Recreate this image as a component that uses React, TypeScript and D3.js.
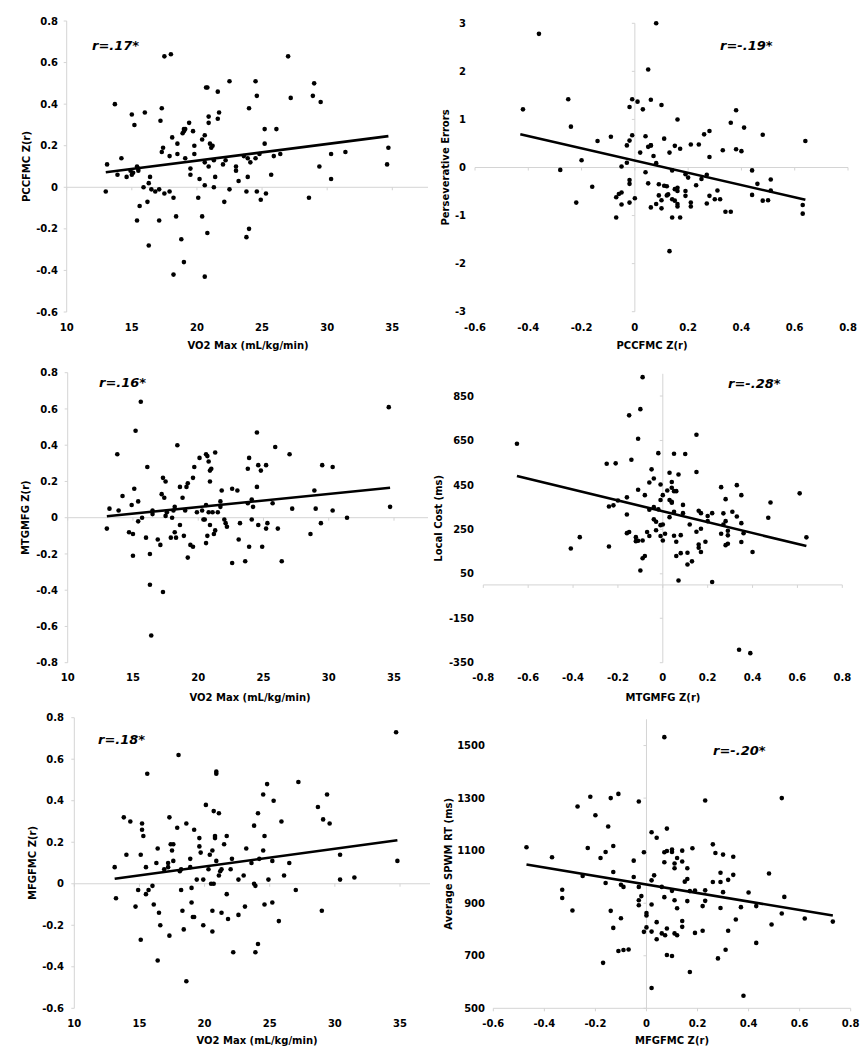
import React from "react";
import * as d3 from "d3";

// ---------- DATA ----------
const vo2VsPcc: [number, number][] = [
  [13.0,-0.02],[13.1,0.11],[13.7,0.40],[13.9,0.06],[14.2,0.14],[14.6,0.05],[14.9,0.08],[15.0,0.35],[15.0,0.06],[15.1,0.07],
  [15.2,0.30],[15.4,0.10],[15.5,0.09],[15.5,0.08],[15.4,-0.16],[15.6,-0.09],[15.9,0.00],[16.0,0.36],[16.2,-0.07],[16.3,0.02],
  [16.4,0.05],[16.3,-0.28],[16.5,-0.01],[16.8,-0.02],[17.1,-0.01],[17.1,-0.16],[17.2,0.32],[17.3,0.17],[17.3,0.38],[17.4,0.19],
  [17.5,0.63],[17.5,-0.03],[17.9,-0.02],[17.9,0.15],[18.0,0.64],[18.1,0.24],[18.2,-0.42],[18.2,-0.05],[18.4,-0.14],[18.5,0.21],
  [18.5,0.16],[18.8,-0.25],[18.9,0.26],[19.0,0.27],[19.0,0.28],[19.1,0.28],[19.0,-0.36],[19.1,0.14],[19.4,0.31],[19.5,0.09],
  [19.5,0.06],[19.7,0.27],[19.8,0.20],[19.8,0.16],[20.1,-0.05],[20.2,0.04],[20.4,0.23],[20.6,0.12],[20.6,0.01],[20.4,-0.14],
  [20.6,0.25],[20.6,-0.43],[20.7,0.48],[20.8,0.48],[20.8,-0.22],[20.9,0.34],[20.9,0.31],[20.9,0.10],[21.0,0.21],[21.1,0.19],
  [21.2,0.20],[21.3,0.13],[21.3,0.00],[21.4,0.05],[21.6,0.46],[21.6,0.33],[21.7,0.36],[22.0,0.11],[22.1,-0.07],[22.2,0.13],
  [22.5,0.51],[22.5,-0.01],[23.0,0.08],[23.0,0.10],[23.2,0.03],[23.6,0.15],[23.8,-0.02],[23.8,-0.24],[23.9,0.14],[23.9,0.05],
  [24.0,0.38],[24.0,-0.20],[24.1,0.12],[24.5,0.51],[24.5,0.14],[24.6,0.44],[24.6,-0.02],[24.8,0.16],[24.9,-0.06],[25.2,0.28],
  [25.2,0.21],[25.3,-0.03],[25.7,0.06],[25.9,0.15],[26.1,0.28],[26.4,0.16],[27.0,0.63],[27.2,0.43],[28.6,-0.05],[28.9,0.44],
  [29.0,0.50],[29.4,0.10],[29.5,0.41],[30.3,0.16],[30.3,0.04],[31.4,0.17],[34.6,0.11],[34.7,0.19]
];

const pccVsErrors: [number, number][] = [
  [-0.42,1.21],[-0.36,2.78],[-0.28,-0.05],[-0.25,1.42],[-0.24,0.85],[-0.22,-0.73],[-0.20,0.15],[-0.16,-0.40],[-0.14,0.55],[-0.09,0.64],
  [-0.07,-0.62],[-0.07,-1.04],[-0.06,-0.55],[-0.05,-0.52],[-0.05,0.02],[-0.05,-0.77],[-0.03,0.46],[-0.03,0.10],[-0.02,0.56],[-0.02,1.26],
  [-0.02,-0.26],[-0.02,-0.34],[-0.02,-0.73],[-0.01,0.67],[-0.01,1.42],[0.00,-0.64],[0.01,1.37],[0.02,0.31],[0.03,1.21],[0.04,0.65],
  [0.04,-0.10],[0.05,2.04],[0.05,0.43],[0.05,-0.33],[0.06,0.46],[0.06,0.46],[0.06,1.41],[0.06,-0.83],[0.07,0.24],[0.08,0.09],
  [0.08,-0.76],[0.08,3.0],[0.09,-0.35],[0.09,-0.58],[0.10,-0.68],[0.10,-0.85],[0.10,1.30],[0.11,0.60],[0.11,-0.38],[0.12,-0.39],
  [0.12,-0.58],[0.125,-0.56],[0.13,0.31],[0.13,-1.74],[0.14,-0.06],[0.14,-0.66],[0.14,-1.04],[0.15,-0.69],[0.15,0.45],[0.15,-0.45],
  [0.16,-0.49],[0.16,1.00],[0.16,-0.42],[0.16,-0.76],[0.16,-0.81],[0.17,0.39],[0.17,-1.04],[0.19,-0.14],[0.19,-0.49],[0.19,-0.59],
  [0.20,-0.21],[0.21,0.48],[0.21,-0.73],[0.21,-0.81],[0.23,-0.37],[0.24,0.48],[0.25,-0.24],[0.26,0.69],[0.27,-0.15],[0.27,-0.75],
  [0.28,0.76],[0.28,0.22],[0.28,-0.59],[0.30,-0.66],[0.31,-0.48],[0.32,-0.66],[0.33,0.36],[0.34,-0.92],[0.36,0.93],[0.36,-0.92],
  [0.38,1.19],[0.38,0.38],[0.40,0.34],[0.41,0.83],[0.44,-0.06],[0.44,-0.57],[0.46,-0.34],[0.48,0.68],[0.48,-0.69],[0.50,-0.68],
  [0.51,-0.25],[0.51,-0.48],[0.63,-0.78],[0.63,-0.96],[0.64,0.55]
];

const vo2VsMtg: [number, number][] = [
  [13.0,-0.06],[13.2,0.05],[13.8,0.35],[13.9,0.04],[14.2,0.12],[14.7,-0.08],[14.9,0.07],[15.0,-0.09],[15.0,-0.21],[15.1,0.16],
  [15.2,0.48],[15.4,0.09],[15.4,-0.02],[15.6,0.64],[15.7,0.00],[16.0,-0.11],[16.1,0.28],[16.3,-0.37],[16.3,-0.20],[16.4,-0.65],
  [16.5,0.02],[16.5,0.04],[16.9,-0.12],[17.1,-0.15],[17.2,0.13],[17.3,0.22],[17.3,-0.41],[17.4,0.11],[17.5,0.01],[17.5,0.20],
  [17.6,0.03],[17.9,-0.11],[18.0,0.00],[18.1,0.04],[18.2,0.06],[18.2,-0.08],[18.3,-0.11],[18.4,0.40],[18.6,0.17],[18.6,-0.04],
  [18.8,0.11],[18.9,-0.10],[19.0,0.04],[19.1,0.17],[19.2,0.19],[19.2,-0.22],[19.4,-0.15],[19.6,-0.16],[19.6,0.22],[19.7,0.28],
  [19.9,0.03],[20.1,0.33],[20.3,0.04],[20.4,-0.01],[20.5,-0.01],[20.6,0.35],[20.7,0.34],[20.6,0.07],[20.6,-0.14],[20.7,-0.10],
  [20.8,0.31],[20.8,0.03],[20.9,0.26],[20.9,0.20],[20.9,-0.04],[21.0,0.27],[21.1,0.03],[21.2,-0.09],[21.3,0.36],[21.3,-0.07],
  [21.5,0.03],[21.7,0.09],[21.8,0.15],[21.7,0.06],[22.0,-0.01],[22.1,-0.03],[22.2,-0.05],[22.6,0.16],[22.6,-0.25],[23.0,0.15],
  [23.1,-0.12],[23.2,-0.03],[23.6,-0.24],[23.8,0.27],[23.9,0.33],[23.9,-0.16],[23.8,0.08],[24.1,0.10],[24.2,0.06],[24.1,-0.01],
  [24.5,0.47],[24.5,0.17],[24.6,0.29],[24.6,-0.04],[24.8,0.26],[24.9,-0.16],[25.2,0.29],[25.2,-0.06],[25.3,-0.03],[25.7,0.08],
  [25.9,0.39],[26.1,-0.06],[26.4,-0.24],[27.0,0.35],[27.2,0.05],[28.6,-0.09],[28.9,0.15],[29.0,0.05],[29.4,-0.03],[29.5,0.29],
  [30.3,0.28],[30.3,0.04],[31.4,0.00],[34.6,0.61],[34.7,0.06]
];

const mtgVsCost: [number, number][] = [
  [-0.65,635],[-0.41,164],[-0.37,215],[-0.25,545],[-0.24,353],[-0.24,173],[-0.22,358],[-0.21,547],[-0.20,380],[-0.16,394],
  [-0.16,317],[-0.16,233],[-0.15,763],[-0.15,238],[-0.14,563],[-0.12,215],[-0.12,197],[-0.11,428],[-0.11,658],[-0.11,199],
  [-0.10,791],[-0.10,65],[-0.09,935],[-0.09,200],[-0.09,120],[-0.08,130],[-0.08,404],[-0.07,238],[-0.06,220],[-0.06,461],
  [-0.06,338],[-0.05,520],[-0.04,479],[-0.04,350],[-0.04,295],[-0.03,284],[-0.03,246],[-0.02,593],[-0.02,340],[-0.01,452],
  [-0.01,382],[-0.01,220],[-0.01,269],[0.00,272],[0.00,404],[0.00,200],[0.01,230],[0.02,425],[0.03,505],[0.03,382],
  [0.03,305],[0.04,374],[0.04,437],[0.04,463],[0.04,370],[0.05,590],[0.05,422],[0.05,329],[0.05,221],[0.06,422],
  [0.06,130],[0.06,194],[0.07,497],[0.07,20],[0.08,224],[0.08,143],[0.09,360],[0.09,323],[0.10,589],[0.11,145],
  [0.11,92],[0.12,272],[0.13,106],[0.15,676],[0.15,508],[0.15,239],[0.16,334],[0.16,182],[0.16,167],[0.17,323],
  [0.17,253],[0.17,148],[0.19,194],[0.20,310],[0.20,287],[0.22,323],[0.22,13],[0.26,440],[0.26,230],[0.27,322],
  [0.27,272],[0.28,386],[0.28,287],[0.28,179],[0.29,244],[0.29,223],[0.29,185],[0.31,329],[0.33,449],[0.33,308],
  [0.34,-292],[0.35,404],[0.35,278],[0.35,193],[0.36,233],[0.39,-307],[0.40,148],[0.47,302],[0.48,371],[0.61,412],
  [0.64,214]
];

const vo2VsMfg: [number, number][] = [
  [13.1,0.08],[13.2,-0.07],[13.8,0.32],[14.0,0.14],[14.3,0.30],[14.7,-0.11],[14.9,-0.03],[15.1,0.14],[15.1,-0.27],[15.2,0.29],
  [15.2,0.26],[15.3,0.23],[15.5,-0.05],[15.5,0.08],[15.6,0.53],[15.7,-0.03],[16.0,-0.01],[16.1,-0.10],[16.3,0.10],[16.4,0.17],
  [16.4,-0.37],[16.5,-0.14],[16.6,-0.20],[16.9,0.07],[17.2,0.10],[17.2,0.08],[17.3,0.32],[17.3,-0.25],[17.4,0.19],[17.5,0.16],
  [17.6,0.19],[17.6,0.11],[17.9,0.27],[18.0,0.62],[18.1,0.06],[18.2,0.07],[18.2,-0.03],[18.3,-0.13],[18.4,-0.22],[18.6,0.29],
  [18.6,-0.47],[18.9,0.12],[18.9,0.08],[19.0,-0.02],[19.0,-0.09],[19.1,-0.16],[19.2,-0.16],[19.2,0.26],[19.4,0.02],[19.6,0.22],
  [19.6,0.18],[19.7,0.15],[19.9,0.02],[19.9,-0.20],[20.1,0.38],[20.3,0.07],[20.4,0.14],[20.5,0.00],[20.6,0.16],[20.6,-0.13],
  [20.6,-0.23],[20.7,0.00],[20.7,0.35],[20.8,0.23],[20.8,0.22],[20.9,0.54],[20.9,0.53],[20.9,0.11],[21.1,0.34],[21.1,0.04],
  [21.2,0.06],[21.3,0.07],[21.3,-0.14],[21.5,0.19],[21.7,0.23],[21.7,-0.05],[21.8,-0.17],[22.0,0.07],[22.1,0.12],[22.2,-0.33],
  [22.6,0.02],[22.6,-0.15],[23.0,0.04],[23.1,-0.11],[23.2,0.17],[23.6,0.10],[23.8,0.28],[23.8,0.00],[23.9,-0.01],[23.9,-0.33],
  [24.1,0.34],[24.1,-0.29],[24.2,0.12],[24.5,0.43],[24.5,0.16],[24.6,0.23],[24.6,-0.10],[24.8,0.48],[24.9,0.02],[25.2,0.11],
  [25.2,-0.09],[25.3,0.40],[25.7,-0.18],[25.9,0.30],[26.1,0.04],[26.5,0.10],[27.0,-0.03],[27.2,0.49],[28.7,0.37],[29.0,-0.13],
  [29.1,0.31],[29.4,0.43],[29.6,0.29],[30.4,0.14],[30.4,0.02],[31.5,0.03],[34.7,0.73],[34.8,0.11]
];

const mfgVsRt: [number, number][] = [
  [-0.47,1113],[-0.37,1075],[-0.33,951],[-0.33,920],[-0.29,872],[-0.27,1268],[-0.25,1004],[-0.23,1110],[-0.22,1305],[-0.20,1235],
  [-0.18,1072],[-0.17,673],[-0.16,1095],[-0.16,977],[-0.15,1192],[-0.14,1300],[-0.14,871],[-0.13,1118],[-0.13,1019],[-0.13,806],
  [-0.11,1316],[-0.11,718],[-0.10,843],[-0.10,970],[-0.09,962],[-0.09,722],[-0.07,724],[-0.05,1062],[-0.05,1000],[-0.03,1287],
  [-0.03,962],[-0.03,911],[-0.03,892],[-0.02,927],[-0.01,1094],[-0.01,791],[0.00,863],[0.00,853],[0.00,808],[0.02,1170],
  [0.02,987],[0.02,895],[0.02,792],[0.02,577],[0.03,1006],[0.04,1149],[0.04,828],[0.04,763],[0.06,962],[0.06,785],
  [0.07,1532],[0.07,1094],[0.07,1056],[0.07,923],[0.073,778],[0.08,1099],[0.08,1184],[0.08,804],[0.08,703],[0.10,1104],
  [0.10,1095],[0.10,947],[0.10,699],[0.11,1051],[0.11,1033],[0.11,911],[0.11,785],[0.12,778],[0.12,1072],[0.12,881],
  [0.14,1100],[0.14,1059],[0.14,832],[0.14,810],[0.15,982],[0.16,1033],[0.16,992],[0.16,908],[0.17,638],[0.17,946],
  [0.18,1109],[0.19,948],[0.19,787],[0.22,889],[0.22,795],[0.23,949],[0.23,909],[0.23,1291],[0.26,1124],[0.26,981],
  [0.27,1091],[0.28,690],[0.29,1016],[0.29,981],[0.29,882],[0.30,1085],[0.30,942],[0.31,723],[0.32,989],[0.32,795],
  [0.34,1077],[0.34,1008],[0.35,838],[0.37,885],[0.38,548],[0.40,941],[0.43,889],[0.43,749],[0.48,1013],[0.49,819],
  [0.53,1300],[0.53,861],[0.54,924],[0.62,842],[0.73,830]
];

// fitted regression lines (endpoints)
const fitPccVo2: [number, number][] = [[13.0, 0.072], [34.7, 0.246]];
const fitErrPcc: [number, number][] = [[-0.43, 0.69], [0.64, -0.67]];
const fitMtgVo2: [number, number][] = [[13.0, 0.008], [34.7, 0.165]];
const fitCostMtg: [number, number][] = [[-0.65, 490], [0.64, 175]];
const fitMfgVo2: [number, number][] = [[13.1, 0.024], [34.8, 0.21]];
const fitRtMfg: [number, number][] = [[-0.47, 1047], [0.73, 853]];

const vo2Ticks = [10, 15, 20, 25, 30, 35];
const zTicks14 = [-0.6, -0.4, -0.2, 0, 0.2, 0.4, 0.6, 0.8];
const zTicks16 = [-0.8, -0.6, -0.4, -0.2, 0, 0.2, 0.4, 0.6, 0.8];
const errTicks = [-3, -2, -1, 0, 1, 2, 3];
const costTicks = [-350, -150, 50, 250, 450, 650, 850];
const rtTicks = [500, 700, 900, 1100, 1300, 1500];

const rLabels = ["r=.17*", "r=-.19*", "r=.16*", "r=-.28*", "r=.18*", "r=-.20*"];

// ---------- LAYOUT ----------
type PanelCfg = {
  data: [number, number][];
  fit: [number, number][];
  xDomain: [number, number];
  yDomain: [number, number];
  xRange: [number, number];
  yRange: [number, number];
  xTicks: number[];
  yTicks: number[];
  xCross: number; // x value where vertical line drawn
  yCross: number; // y value where horizontal line drawn
  hLineEnd: number;
  vTop?: number;
  xTitle: string;
  yTitle: string;
  xTitleX: number;
  xTitleY: number;
  yTitleX: number;
  yLabelX: number;
  xLabelY: number;
  rLabel: string;
  rX: number;
  rY: number;
};

const fmt = (v: number) => {
  if (v === 0) return "0";
  const s = String(Math.round(v * 100) / 100);
  return s;
};

const panels: PanelCfg[] = [
  {
    data: vo2VsPcc, fit: fitPccVo2,
    xDomain: [10, 35], yDomain: [-0.6, 0.8], xRange: [66.7, 392.3], yRange: [312, 21],
    xTicks: vo2Ticks, yTicks: zTicks14, xCross: 10, yCross: 0, hLineEnd: 428,
    xTitle: "VO2 Max (mL/kg/min)", yTitle: "PCCFMC Z(r)",
    xTitleX: 248, xTitleY: 349, yTitleX: 30, yLabelX: 58, xLabelY: 331,
    rLabel: rLabels[0], rX: 92, rY: 50,
  },
  {
    data: pccVsErrors, fit: fitErrPcc,
    xDomain: [-0.6, 0.8], yDomain: [-3, 3], xRange: [475, 848], yRange: [311.7, 23.3],
    xTicks: zTicks14, yTicks: errTicks, xCross: 0, yCross: 0, hLineEnd: 848,
    xTitle: "PCCFMC Z(r)", yTitle: "Perseverative Errors",
    xTitleX: 652, xTitleY: 349, yTitleX: 449, yLabelX: 466, xLabelY: 331,
    rLabel: rLabels[1], rX: 720, rY: 50,
  },
  {
    data: vo2VsMtg, fit: fitMtgVo2,
    xDomain: [10, 35], yDomain: [-0.8, 0.8], xRange: [67.7, 394], yRange: [662.7, 372.7],
    xTicks: vo2Ticks, yTicks: zTicks16, xCross: 10, yCross: 0, hLineEnd: 428,
    xTitle: "VO2 Max (mL/kg/min)", yTitle: "MTGMFG Z(r)",
    xTitleX: 250, xTitleY: 701, yTitleX: 29, yLabelX: 58, xLabelY: 681,
    rLabel: rLabels[2], rX: 99, rY: 387,
  },
  {
    data: mtgVsCost, fit: fitCostMtg,
    xDomain: [-0.8, 0.8], yDomain: [-350, 950], xRange: [483.3, 842.3], yRange: [662.7, 373.8],
    xTicks: zTicks16, yTicks: costTicks, xCross: 0, yCross: 0, hLineEnd: 842.3,
    xTitle: "MTGMFG Z(r)", yTitle: "Local Cost (ms)",
    xTitleX: 663, xTitleY: 701, yTitleX: 442, yLabelX: 474, xLabelY: 681,
    rLabel: rLabels[3], rX: 728, rY: 388,
  },
  {
    data: vo2VsMfg, fit: fitMfgVo2,
    xDomain: [10, 35], yDomain: [-0.6, 0.8], xRange: [74.3, 400], yRange: [1008.3, 717.7],
    xTicks: vo2Ticks, yTicks: zTicks14, xCross: 10, yCross: 0, hLineEnd: 430,
    xTitle: "VO2 Max (mL/kg/min)", yTitle: "MFGFMC Z(r)",
    xTitleX: 257, xTitleY: 1044, yTitleX: 36, yLabelX: 64, xLabelY: 1027,
    rLabel: rLabels[4], rX: 98, rY: 744,
  },
  {
    data: mfgVsRt, fit: fitRtMfg,
    xDomain: [-0.6, 0.8], yDomain: [500, 1600], xRange: [493.3, 850.7], yRange: [1008.3, 719.3],
    xTicks: zTicks14, yTicks: rtTicks, xCross: 0, yCross: 500, hLineEnd: 850.7,
    xTitle: "MFGFMC Z(r)", yTitle: "Average SPWM RT (ms)",
    xTitleX: 672, xTitleY: 1044, yTitleX: 452, yLabelX: 485, xLabelY: 1027,
    rLabel: rLabels[5], rX: 713, rY: 755,
  },
];

const FONT = "'DejaVu Sans', Verdana, sans-serif";
const AXIS = "#d4d4d4";

function Panel({ c }: { c: PanelCfg }) {
  const x = d3.scaleLinear().domain(c.xDomain).range(c.xRange);
  const y = d3.scaleLinear().domain(c.yDomain).range(c.yRange);
  const hy = y(c.yCross);
  const vx = x(c.xCross);
  const line = d3.line<[number, number]>().x((d) => x(d[0])).y((d) => y(d[1]));
  const yMid = (c.yRange[0] + c.yRange[1]) / 2;
  return (
    <g>
      {/* vertical axis line */}
      <line x1={vx} x2={vx} y1={c.yRange[1]} y2={c.yRange[0]} stroke={AXIS} strokeWidth={1} />
      {c.yTicks.map((t) => (
        <line key={"vt" + t} x1={vx - 3} x2={vx} y1={y(t)} y2={y(t)} stroke={AXIS} strokeWidth={1} />
      ))}
      {/* horizontal axis line */}
      <line x1={c.xRange[0]} x2={c.hLineEnd} y1={hy} y2={hy} stroke={AXIS} strokeWidth={1} />
      {c.xTicks.map((t) => (
        <line key={"ht" + t} x1={x(t)} x2={x(t)} y1={hy} y2={hy + 3} stroke={AXIS} strokeWidth={1} />
      ))}
      {/* tick labels */}
      {c.yTicks.map((t) => (
        <text key={"yl" + t} x={c.yLabelX} y={y(t)} dy="0.36em" textAnchor="end"
          fontFamily={FONT} fontWeight="bold" fontSize={10} fill="#000">{fmt(t)}</text>
      ))}
      {c.xTicks.map((t) => (
        <text key={"xl" + t} x={x(t)} y={c.xLabelY} textAnchor="middle"
          fontFamily={FONT} fontWeight="bold" fontSize={10} fill="#000">{fmt(t)}</text>
      ))}
      {/* titles */}
      <text x={c.xTitleX} y={c.xTitleY} textAnchor="middle" fontFamily={FONT}
        fontWeight="bold" fontSize={10} fill="#000">{c.xTitle}</text>
      <text transform={`translate(${c.yTitleX},${yMid}) rotate(-90)`} textAnchor="middle"
        fontFamily={FONT} fontWeight="bold" fontSize={10} fill="#000">{c.yTitle}</text>
      {/* points */}
      {c.data.map((d, i) => (
        <circle key={"p" + i} cx={x(d[0])} cy={y(d[1])} r={2.3} fill="#000" />
      ))}
      {/* fit line */}
      <path d={line(c.fit) || ""} stroke="#000" strokeWidth={2.6} fill="none" />
      {/* r label */}
      <text x={c.rX} y={c.rY} fontFamily={FONT} fontWeight="bold" fontStyle="italic"
        fontSize={13} fill="#000">{c.rLabel}</text>
    </g>
  );
}

export default function App() {
  return (
    <svg width={863} height={1050} viewBox="0 0 863 1050"
      style={{ position: "absolute", left: 0, top: 0, background: "#fff" }}>
      <rect x={0} y={0} width={863} height={1050} fill="#fff" />
      {panels.map((c, i) => (
        <Panel key={i} c={c} />
      ))}
    </svg>
  );
}
